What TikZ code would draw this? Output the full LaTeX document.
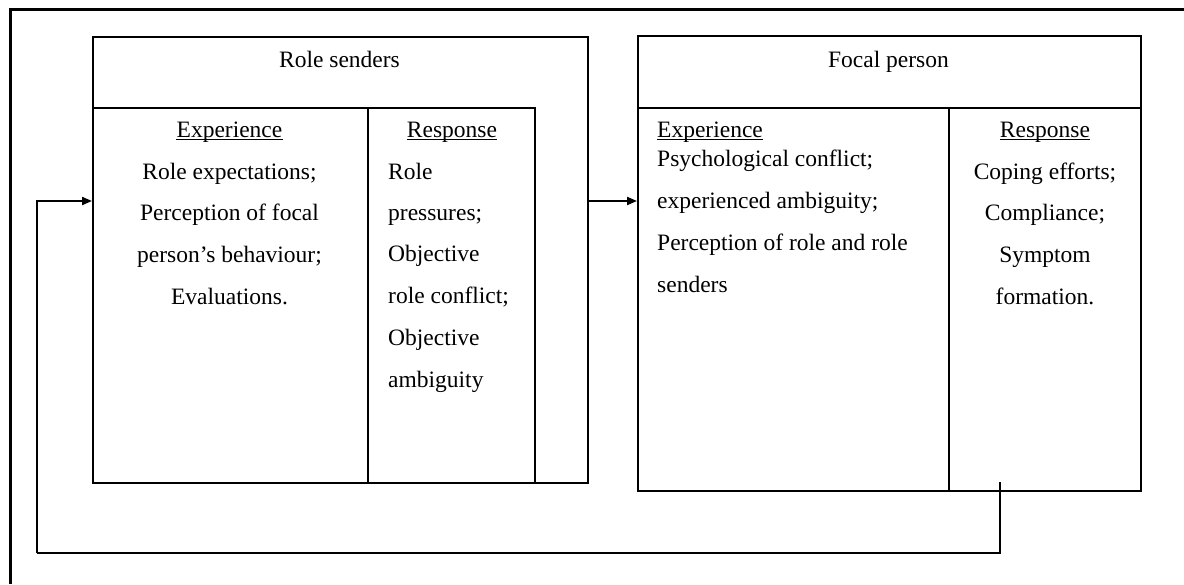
\documentclass[tikz,border=0pt]{standalone}
\usepackage{fontspec}
\setmainfont{Liberation Serif}
\usetikzlibrary{arrows.meta}

\begin{document}
\begin{tikzpicture}[x=1pt,y=-1pt,
  txt/.style={inner sep=0pt, anchor=base, font=\fontsize{23.5}{28}\selectfont},
  ltxt/.style={txt, anchor=base west},
  box/.style={draw, line width=2pt, inner sep=0pt, anchor=north west},
  frame/.style={line width=3pt},
  flow/.style={line width=2pt, -{Triangle[length=10pt,width=8pt]}},
  link/.style={line width=2pt},
  uline/.style={line width=1.2pt},
  ]
\useasboundingbox (0,0) rectangle (1184,584);

% page frame (left and top edges)
\draw[frame] (10,584) -- (10,9) -- (1184,9);

% ---- role senders ----
\node[box, minimum width=495pt, minimum height=446pt] (rs) at (92,36) {};
\node[box, minimum width=275pt, minimum height=375pt] (rsexp) at (92,107) {};
\node[box, minimum width=167pt, minimum height=375pt] (rsresp) at (367,107) {};

\node[txt] (rstitle) at (339.5,67) {Role senders};
\node[txt] (rsexph) at (229.5,137) {Experience};
\node[txt] (rse1) at (229.5,179) {Role expectations;};
\node[txt] (rse2) at (229.5,220) {Perception of focal};
\node[txt] (rse3) at (229.5,262) {person’s behaviour;};
\node[txt] (rse4) at (229.5,304) {Evaluations.};

\node[txt] (rsresph) at (452,137) {Response};
\node[ltxt] (rsr1) at (388,179) {Role};
\node[ltxt] (rsr2) at (388,220) {pressures;};
\node[ltxt] (rsr3) at (388,261) {Objective};
\node[ltxt] (rsr4) at (388,303) {role conflict;};
\node[ltxt] (rsr5) at (388,345) {Objective};
\node[ltxt] (rsr6) at (388,387) {ambiguity};

% ---- focal person ----
\node[box, minimum width=503pt, minimum height=455pt] (fp) at (637,35) {};
\node[box, minimum width=311pt, minimum height=383pt] (fpexp) at (637,107) {};
\node[box, minimum width=192pt, minimum height=383pt] (fpresp) at (948,107) {};

\node[txt] (fptitle) at (888.5,67) {Focal person};
\node[ltxt] (fpexph) at (657,137) {Experience};
\node[ltxt] (fpe1) at (657,166) {Psychological conflict;};
\node[ltxt] (fpe2) at (657,208) {experienced ambiguity;};
\node[ltxt] (fpe3) at (657,250) {Perception of role and role};
\node[ltxt] (fpe4) at (657,292) {senders};

\node[txt] (fpresph) at (1045,137) {Response};
\node[txt] (fpr1) at (1045,179) {Coping efforts;};
\node[txt] (fpr2) at (1045,220) {Compliance;};
\node[txt] (fpr3) at (1045,262) {Symptom};
\node[txt] (fpr4) at (1045,304) {formation.};

% underlined column headings
\foreach \h in {rsexph, rsresph, fpexph, fpresph}
  \draw[uline] ([yshift=-2.5pt]\h.base west) -- ([yshift=-2.5pt]\h.base east);

% ---- connectors ----
\coordinate (row) at (0,201);
\coordinate (fbstart) at (1000,482);
\coordinate (fbcorner) at (37,553);

\draw[flow] (rs.east |- row) -- (fp.west |- row);
\draw[link] (fbstart) |- (fbcorner);
\draw[flow] (fbcorner) |- (rsexp.west |- row);
\end{tikzpicture}
\end{document}
